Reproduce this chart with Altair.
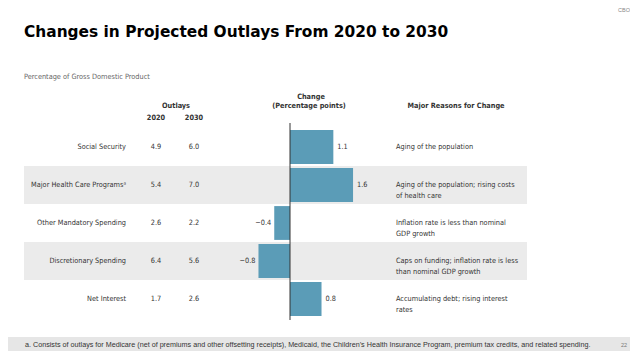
import altair as alt
import pandas as pd

# ---------------- data ----------------
categories = [
    "Social Security",
    "Major Health Care Programs\u1d43",
    "Other Mandatory Spending",
    "Discretionary Spending",
    "Net Interest",
]
outlays_2020 = [4.9, 5.4, 2.6, 6.4, 1.7]
outlays_2030 = [6.0, 7.0, 2.2, 5.6, 2.6]
change = [1.1, 1.6, -0.4, -0.8, 0.8]
reasons = [
    "Aging of the population",
    "Aging of the population; rising costs\nof health care",
    "Inflation rate is less than nominal\nGDP growth",
    "Caps on funding; inflation rate is less\nthan nominal GDP growth",
    "Accumulating debt; rising interest\nrates",
]
shaded = [False, True, False, True, False]

title_text = "Changes in Projected Outlays From 2020 to 2030"
subtitle_text = "Percentage of Gross Domestic Product"
footnote_text = ("a. Consists of outlays for Medicare (net of premiums and other offsetting receipts), "
                 "Medicaid, the Children\u2019s Health Insurance Program, premium tax credits, and related spending.")
page_number = "22"
logo_text = "CBO"

def fmt(v):
    s = f"{abs(v):.1f}"
    return ("\u2212" + s) if v < 0 else s

df = pd.DataFrame({
    "cat": categories,
    "v2020": [f"{v:.1f}" for v in outlays_2020],
    "v2030": [f"{v:.1f}" for v in outlays_2030],
    "change": change,
    "label": [fmt(v) for v in change],
    "reason": reasons,
    "shaded": shaded,
})

# ---------------- styling ----------------
W, H = 622, 343
NARROW = "DejaVu Sans Condensed, Roboto Condensed, Liberation Sans Narrow, Roboto, sans-serif"
TXT = "#333333"
BAR = "#5b9cb7"
FS = 7.3

yscale = alt.Scale(domain=categories, range=[120, 310], paddingInner=0, paddingOuter=0)
xscale = alt.Scale(domain=[-1, 2], range=[242.6, 360.8], nice=False, zero=False)
Y = alt.Y("cat:N", scale=yscale, axis=None)

base = alt.Chart(df)

bands = base.transform_filter(alt.datum.shaded).mark_rect(color="#ebebeb").encode(
    y=Y, x=alt.value(16), x2=alt.value(519)
)

bars = base.mark_bar(color=BAR, height=alt.RelativeBandSize(0.89)).encode(
    y=Y,
    x=alt.X("change:Q", scale=xscale, axis=None),
    x2=alt.datum(0),
)

zero = alt.Chart(pd.DataFrame({"z": [0]})).mark_rule(color="#333333", strokeWidth=1).encode(
    x=alt.X("z:Q", scale=xscale, axis=None), y=alt.value(115), y2=alt.value(312)
)

def coltext(field, xpos, align):
    return base.mark_text(font=NARROW, fontSize=FS, color=TXT, align=align, baseline="middle").encode(
        y=Y, x=alt.value(xpos), text=f"{field}:N"
    )

cat_labels = coltext("cat", 118, "right")
c2020 = coltext("v2020", 148, "center")
c2030 = coltext("v2030", 186, "center")
reason_txt = base.mark_text(font=NARROW, fontSize=FS, color=TXT, align="left", baseline="middle",
                            lineBreak="\n", lineHeight=11).encode(
    y=Y, x=alt.value(388), text="reason:N"
)

pos_lab = base.transform_filter(alt.datum.change >= 0).mark_text(
    font=NARROW, fontSize=FS, color=TXT, align="left", baseline="middle", dx=4
).encode(y=Y, x=alt.X("change:Q", scale=xscale, axis=None), text="label:N")
neg_lab = base.transform_filter(alt.datum.change < 0).mark_text(
    font=NARROW, fontSize=FS, color=TXT, align="right", baseline="middle", dx=-3
).encode(y=Y, x=alt.X("change:Q", scale=xscale, axis=None), text="label:N")

def label(text, x, y, size=FS, bold=False, align="center", color=TXT, font=NARROW, baseline="middle"):
    return alt.Chart(pd.DataFrame({"t": [text]})).mark_text(
        font=font, fontSize=size, fontWeight="bold" if bold else "normal",
        color=color, align=align, baseline=baseline
    ).encode(x=alt.value(x), y=alt.value(y), text="t:N")

footer_band = alt.Chart(pd.DataFrame({"t": [0]})).mark_rect(color="#e6e6e6").encode(
    x=alt.value(0), x2=alt.value(W), y=alt.value(329), y2=alt.value(H)
)

layers = [
    footer_band, bands, bars, zero, cat_labels, c2020, c2030, reason_txt, pos_lab, neg_lab,
    label(title_text, 16, 29, size=15.4, bold=True, align="left", color="#000000",
          font="DejaVu Sans", baseline="alphabetic"),
    label(logo_text, 622, 2, size=5.5, align="right", color="#888888", font="Liberation Sans"),
    label(subtitle_text, 16, 69, size=FS, align="left", color="#666666"),
    label("Outlays", 168, 98, bold=True),
    label("2020", 148, 110, bold=True),
    label("2030", 186, 110, bold=True),
    label("Change", 303, 89, bold=True),
    label("(Percentage points)", 301, 98, bold=True),
    label("Major Reasons for Change", 448, 98, bold=True),
    label(footnote_text, 17, 337, size=7.2, align="left", color="#333333", font="Liberation Sans"),
    label(page_number, 613, 337, size=5.5, align="left", color="#777777", font="Liberation Sans"),
]

chart = alt.layer(*layers).properties(
    width=W, height=H, autosize=alt.AutoSizeParams(type="none"), padding=0
).configure_view(stroke=None)

chart.save("out.html", embed_options={"renderer": "svg", "actions": False})
